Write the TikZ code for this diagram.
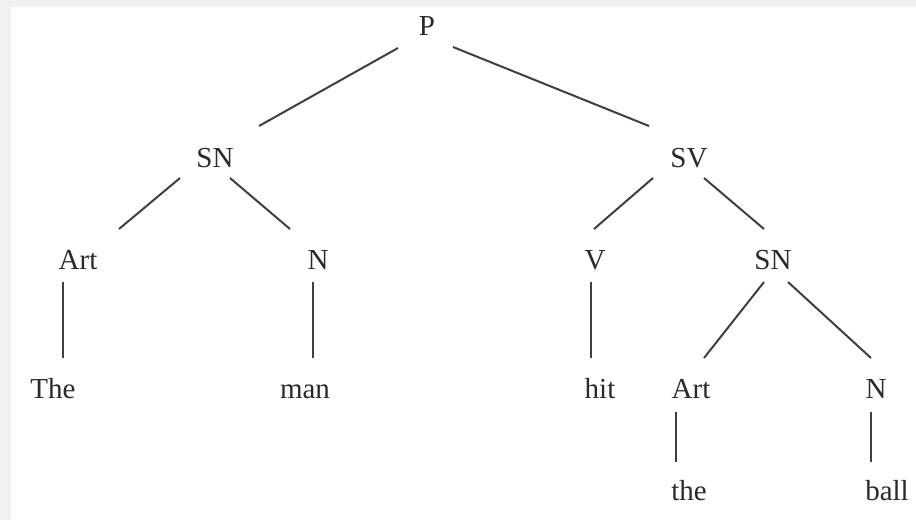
\documentclass[tikz,border=0pt]{standalone}
\usepackage{fontspec}
\setmainfont{Liberation Serif}
\usetikzlibrary{calc}
\definecolor{bggray}{HTML}{F0F0F0}
\definecolor{ink}{HTML}{2A2A2A}

\begin{document}
\begin{tikzpicture} [x=1pt, y=-1pt, font=\fontsize{29}{34}\selectfont,
  lab/.style={anchor=base, inner sep=0pt, text=ink},
  edge/.style={draw=ink!90, line width=2pt}]
\useasboundingbox (0,0) rectangle (916,520);
\fill[bggray] (0,0) rectangle (916,520);
\fill[white] (11,7) rectangle (916,520);
% labels
\node[lab] (P) at (427,35) {P};
\node[lab] (SN) at (215,167) {SN};
\node[lab] (SV) at (689,167) {SV};
\node[lab] (ArtA) at (78,269) {Art};
\node[lab] (NA) at (318,269) {N};
\node[lab] (V) at (595,269) {V};
\node[lab] (SNB) at (773,269) {SN};
\node[lab] (The) at (53,398) {The};
\node[lab] (man) at (305,398) {man};
\node[lab] (hit) at (600,398) {hit};
\node[lab] (ArtB) at (691,398) {Art};
\node[lab] (NB) at (876,398) {N};
\node[lab] (the) at (689,500) {the};
\node[lab] (ball) at (887,500) {ball};
% branches
\foreach \a/\ax/\ay/\b/\bx/\by in {P/-29/13/SN/44/-41, P/26/12/SV/-40/-41,
  SN/-35/11/ArtA/41/-40, SN/15/11/NA/-28/-40,
  SV/-36/11/V/-1/-40, SV/15/11/SNB/-9/-40,
  ArtA/-15/13/The/10/-40, NA/-5/13/man/8/-40, V/-4/13/hit/-9/-40,
  SNB/-9/13/ArtB/13/-40, SNB/15/13/NB/-5/-40,
  ArtB/-15/14/the/-13/-38, NB/-5/14/ball/-16/-38}{
 \draw[edge] ($(\a.base)+(\ax,\ay)$) -- ($(\b.base)+(\bx,\by)$);
}
\end{tikzpicture}
\end{document}
